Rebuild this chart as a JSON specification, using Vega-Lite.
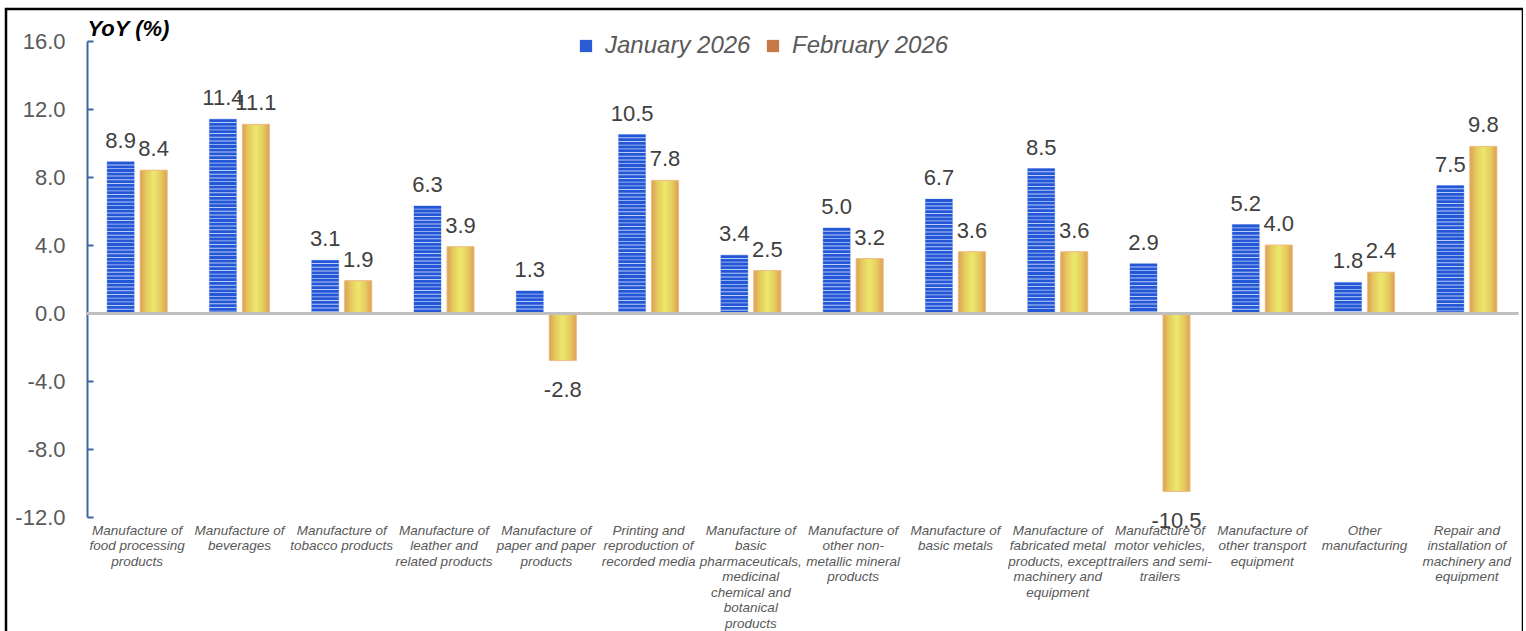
{
  "$schema": "https://vega.github.io/schema/vega-lite/v6.json",
  "width": 1517,
  "height": 700,
  "autosize": {"type": "none"},
  "padding": {"left": 6, "top": 9, "right": 0, "bottom": 0},
  "background": "white",
  "config": {
    "view": {"stroke": "#000000", "strokeWidth": 2.5},
    "font": "Liberation Sans",
    "locale": {"number": {"decimal": ".", "thousands": ",", "grouping": [3], "currency": ["$", ""], "minus": "-"}}
  },
  "data": {"values": [
    {"industry": "Manufacture of\nfood processing\nproducts", "series": "January 2026", "value": 8.9},
    {"industry": "Manufacture of\nfood processing\nproducts", "series": "February 2026", "value": 8.4},
    {"industry": "Manufacture of\nbeverages", "series": "January 2026", "value": 11.4},
    {"industry": "Manufacture of\nbeverages", "series": "February 2026", "value": 11.1},
    {"industry": "Manufacture of\ntobacco products", "series": "January 2026", "value": 3.1},
    {"industry": "Manufacture of\ntobacco products", "series": "February 2026", "value": 1.9},
    {"industry": "Manufacture of\nleather and\nrelated products", "series": "January 2026", "value": 6.3},
    {"industry": "Manufacture of\nleather and\nrelated products", "series": "February 2026", "value": 3.9},
    {"industry": "Manufacture of\npaper and paper\nproducts", "series": "January 2026", "value": 1.3},
    {"industry": "Manufacture of\npaper and paper\nproducts", "series": "February 2026", "value": -2.8},
    {"industry": "Printing and\nreproduction of\nrecorded media", "series": "January 2026", "value": 10.5},
    {"industry": "Printing and\nreproduction of\nrecorded media", "series": "February 2026", "value": 7.8},
    {"industry": "Manufacture of\nbasic\npharmaceuticals,\nmedicinal\nchemical and\nbotanical\nproducts", "series": "January 2026", "value": 3.4},
    {"industry": "Manufacture of\nbasic\npharmaceuticals,\nmedicinal\nchemical and\nbotanical\nproducts", "series": "February 2026", "value": 2.5},
    {"industry": "Manufacture of\nother non-\nmetallic mineral\nproducts", "series": "January 2026", "value": 5.0},
    {"industry": "Manufacture of\nother non-\nmetallic mineral\nproducts", "series": "February 2026", "value": 3.2},
    {"industry": "Manufacture of\nbasic metals", "series": "January 2026", "value": 6.7},
    {"industry": "Manufacture of\nbasic metals", "series": "February 2026", "value": 3.6},
    {"industry": "Manufacture of\nfabricated metal\nproducts, except\nmachinery and\nequipment", "series": "January 2026", "value": 8.5},
    {"industry": "Manufacture of\nfabricated metal\nproducts, except\nmachinery and\nequipment", "series": "February 2026", "value": 3.6},
    {"industry": "Manufacture of\nmotor vehicles,\ntrailers and semi-\ntrailers", "series": "January 2026", "value": 2.9},
    {"industry": "Manufacture of\nmotor vehicles,\ntrailers and semi-\ntrailers", "series": "February 2026", "value": -10.5},
    {"industry": "Manufacture of\nother transport\nequipment", "series": "January 2026", "value": 5.2},
    {"industry": "Manufacture of\nother transport\nequipment", "series": "February 2026", "value": 4.0},
    {"industry": "Other\nmanufacturing", "series": "January 2026", "value": 1.8},
    {"industry": "Other\nmanufacturing", "series": "February 2026", "value": 2.4},
    {"industry": "Repair and\ninstallation of\nmachinery and\nequipment", "series": "January 2026", "value": 7.5},
    {"industry": "Repair and\ninstallation of\nmachinery and\nequipment", "series": "February 2026", "value": 9.8}
  ]},
  "resolve": {"axis": {"x": "independent"}},
  "layer": [
    {
      "mark": {"type": "bar"},
      "encoding": {
        "x": {"field": "industry", "type": "nominal", "sort": null,
          "scale": {"range": [80, 1512], "paddingInner": 0, "paddingOuter": 0},
          "axis": {"orient": "bottom", "offset": -396, "labels": false, "ticks": false, "grid": false,
            "domainColor": "#bfbfbf", "domainWidth": 3, "title": null, "zindex": 1}},
        "xOffset": {"field": "series", "type": "nominal",
          "scale": {"domain": ["January 2026", "February 2026"], "paddingInner": 0.18, "paddingOuter": 0.64}},
        "y": {"field": "value", "type": "quantitative",
          "scale": {"domain": [-12, 16], "range": [508, 32], "nice": false, "zero": false},
          "axis": {"values": [-12, -8, -4, 0, 4, 8, 12, 16], "format": ".1f", "offset": -81,
            "domainColor": "#3f67a3", "domainWidth": 2, "tickColor": "#3f67a3", "tickWidth": 2,
            "tickSize": -6, "labelPadding": 28, "labelFontSize": 22, "labelColor": "#595959",
            "labelFont": "Liberation Sans", "labelFlush": false, "labelBound": false, "grid": false,
            "title": "YoY (%)", "titleAngle": 0, "titleX": 0, "titleY": 19, "titleAlign": "left",
            "titleBaseline": "middle", "titleFontSize": 22, "titleFontWeight": "bold",
            "titleFontStyle": "italic", "titleColor": "#000000", "titleFont": "Liberation Sans"}},
        "y2": {"datum": 0},
        "color": {"field": "series", "type": "nominal",
          "scale": {"domain": ["January 2026", "February 2026"], "range": ["#2a5cd6", "#c8794a"]},
          "legend": {"orient": "none", "legendX": 568, "legendY": 25, "direction": "horizontal",
            "title": null, "symbolType": "square", "symbolSize": 150, "symbolStrokeWidth": 0,
            "labelFontSize": 24, "labelFontStyle": "italic", "labelColor": "#595959",
            "labelFont": "Liberation Sans", "columnSpacing": 28, "labelOffset": 7}}
      }
    },
    {
      "mark": {"type": "bar", "strokeWidth": 1},
      "encoding": {
        "x": {"field": "industry", "type": "nominal", "sort": null, "axis": null},
        "xOffset": {"field": "series", "type": "nominal"},
        "y": {"field": "value", "type": "quantitative"},
        "y2": {"datum": 0},
        "fill": {"condition": {"test": "datum.series === 'January 2026'", "value": "#b9cdf4"},
          "value": {"gradient": "linear", "x1": 0, "y1": 0, "x2": 1, "y2": 0,
            "stops": [
              {"offset": 0, "color": "#dc9f52"},
              {"offset": 0.22, "color": "#e6c95e"},
              {"offset": 0.5, "color": "#ece86c"},
              {"offset": 0.78, "color": "#e6c95e"},
              {"offset": 1, "color": "#dc9f52"}
            ]}},
        "stroke": {"condition": {"test": "datum.series === 'January 2026'", "value": "#b9cdf4"}, "value": "#efbf8a"}
      }
    },
    {
      "transform": [{"filter": "datum.series === 'January 2026'"}],
      "mark": {"type": "rule", "strokeWidth": 27, "strokeDash": [2.8, 0.9], "strokeCap": "butt", "color": "#2456d8"},
      "encoding": {
        "x": {"field": "industry", "type": "nominal", "sort": null, "axis": null},
        "xOffset": {"field": "series", "type": "nominal"},
        "y": {"field": "value", "type": "quantitative"},
        "y2": {"datum": 0}
      }
    },
    {
      "transform": [{"filter": "datum.value >= 0"}],
      "mark": {"type": "text", "dy": -14, "baseline": "alphabetic", "fontSize": 22, "color": "#404040", "font": "Liberation Sans"},
      "encoding": {
        "x": {"field": "industry", "type": "nominal", "sort": null,
          "axis": {"orient": "bottom", "offset": -190, "labelExpr": "split(datum.label, '\\n')",
            "labelFontStyle": "italic", "labelFontSize": 13.5, "labelColor": "#595959",
            "labelFont": "Liberation Sans", "labelLineHeight": 15.5, "labelBaseline": "top",
            "labelPadding": 4, "ticks": false, "domain": false, "grid": false, "labelAngle": 0,
            "labelLimit": 0, "labelOverlap": false, "labelBound": false, "labelFlush": false,
            "labelAlign": "center", "title": null}},
        "xOffset": {"field": "series", "type": "nominal"},
        "y": {"field": "value", "type": "quantitative"},
        "text": {"field": "value", "type": "quantitative", "format": ".1f"}
      }
    },
    {
      "transform": [{"filter": "datum.value < 0"}],
      "mark": {"type": "text", "dy": 36, "baseline": "alphabetic", "fontSize": 22, "color": "#404040", "font": "Liberation Sans"},
      "encoding": {
        "x": {"field": "industry", "type": "nominal", "sort": null, "axis": null},
        "xOffset": {"field": "series", "type": "nominal"},
        "y": {"field": "value", "type": "quantitative"},
        "text": {"field": "value", "type": "quantitative", "format": ".1f"}
      }
    }
  ]
}
